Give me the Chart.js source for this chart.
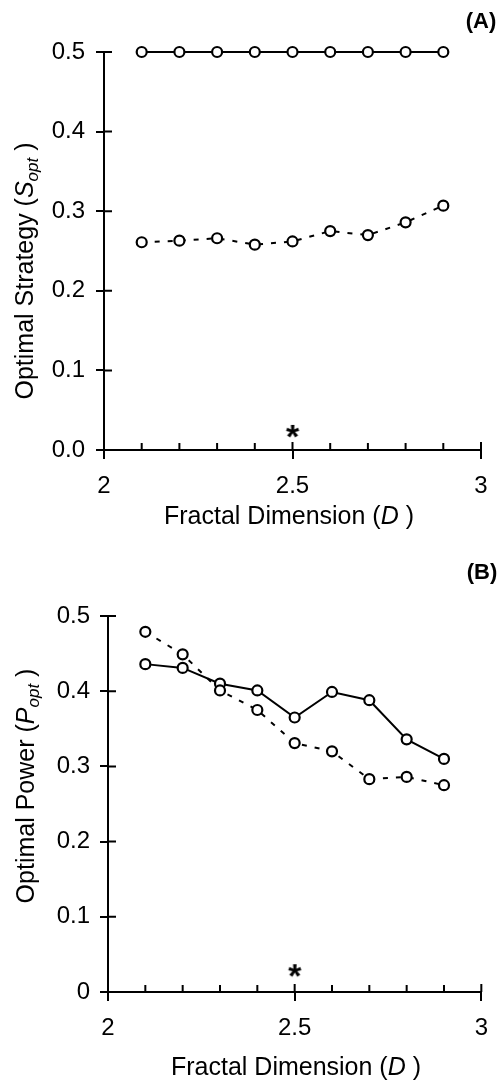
<!DOCTYPE html>
<html>
<head>
<meta charset="utf-8">
<script src="https://cdn.jsdelivr.net/npm/chart.js@4"></script>
<style>
  body { margin: 0; background: #fff; }
  #wrap { position: relative; width: 501px; height: 1080px; }
  canvas { position: absolute; left: 0; }
</style>
</head>
<body>
<div id="wrap">
  <canvas id="chart-a" width="501" height="540" style="top:0"></canvas>
  <canvas id="chart-b" width="501" height="540" style="top:540px"></canvas>
</div>
<script>
const dimValues      = [2.1, 2.2, 2.3, 2.4, 2.5, 2.6, 2.7, 2.8, 2.9];
const strategySolid  = [0.5, 0.5, 0.5, 0.5, 0.5, 0.5, 0.5, 0.5, 0.5];
const strategyDashed = [0.261, 0.263, 0.266, 0.258, 0.262, 0.275, 0.270, 0.286, 0.307];
const powerSolid     = [0.436, 0.431, 0.410, 0.401, 0.365, 0.399, 0.388, 0.336, 0.310];
const powerDashed    = [0.479, 0.449, 0.401, 0.375, 0.331, 0.320, 0.283, 0.286, 0.275];
const starX          = [2.5];
const starStrategy   = [0.024];
const starPower      = [0.029];
const xTickValues    = [2, 2.5, 3];
const xTickLabels    = ['2', '2.5', '3'];
const minorTicks     = [2.1, 2.2, 2.3, 2.4, 2.5, 2.6, 2.7, 2.8, 2.9];

const FONT = '"Liberation Sans", Arial, sans-serif';

function asteriskImage() {
  const c = document.createElement('canvas');
  c.width = 26; c.height = 26;
  const g = c.getContext('2d');
  g.font = 'bold 34px ' + FONT;
  g.textAlign = 'center';
  const m = g.measureText('*');
  g.fillStyle = '#000';
  g.fillText('*', 13, 13 + (m.actualBoundingBoxAscent - m.actualBoundingBoxDescent) / 2);
  return c;
}
const starImg = asteriskImage();

const pts = (xs, ys) => xs.map((x, i) => ({ x: x, y: ys[i] }));

function drawRuns(ctx, runs) {
  let total = 0;
  runs.forEach(r => { ctx.font = r.font; total += ctx.measureText(r.text).width; });
  let x = -total / 2;
  runs.forEach(r => {
    ctx.font = r.font;
    ctx.fillText(r.text, x, r.dy || 0);
    x += ctx.measureText(r.text).width;
  });
}

// axis titles, panel letter and the inward half of the tick marks
const decor = {
  id: 'decor',
  afterDraw(chart, args, o) {
    const ctx = chart.ctx;
    const xs = chart.scales.x, ys = chart.scales.y;
    const area = chart.chartArea;
    ctx.save();
    ctx.strokeStyle = '#000';
    ctx.lineWidth = 2;
    ctx.beginPath();
    minorTicks.forEach(v => {
      const px = xs.getPixelForValue(v);
      ctx.moveTo(px, area.bottom); ctx.lineTo(px, area.bottom - 7);
    });
    xTickValues.forEach(v => {
      const px = xs.getPixelForValue(v);
      ctx.moveTo(px, area.bottom); ctx.lineTo(px, area.bottom - 8);
    });
    ys.ticks.forEach(t => {
      const py = ys.getPixelForValue(t.value);
      ctx.moveTo(area.left, py); ctx.lineTo(area.left + 8, py);
    });
    ctx.stroke();

    ctx.fillStyle = '#000';
    ctx.textBaseline = 'alphabetic';
    ctx.textAlign = 'left';
    ctx.save();
    ctx.translate(o.yTitlePos[0], o.yTitlePos[1]);
    ctx.rotate(-Math.PI / 2);
    drawRuns(ctx, o.yTitle);
    ctx.restore();

    ctx.save();
    ctx.translate(o.xTitlePos[0], o.xTitlePos[1]);
    drawRuns(ctx, o.xTitle);
    ctx.restore();

    ctx.font = 'bold 22px ' + FONT;
    ctx.textAlign = 'center';
    ctx.textBaseline = 'middle';
    ctx.fillText(o.letter, o.letterPos[0], o.letterPos[1]);
    ctx.restore();
  }
};

function makePanel(id, cfg) {
  const solid = {
    data: pts(dimValues, cfg.solid),
    borderColor: '#000', borderWidth: 2,
    pointRadius: 5, pointBorderWidth: 2.2,
    pointBackgroundColor: '#fff', pointBorderColor: '#000',
    clip: false
  };
  const dashed = Object.assign({}, solid, { data: pts(dimValues, cfg.dashed), borderDash: [5, 8] });
  const star = {
    data: pts(starX, cfg.star),
    showLine: false, pointStyle: starImg, pointRadius: 8, clip: false
  };
  return new Chart(document.getElementById(id), {
    type: 'line',
    data: { datasets: [dashed, solid, star] },
    options: {
      responsive: false,
      animation: false,
      events: [],
      layout: { padding: cfg.padding },
      plugins: {
        legend: { display: false },
        tooltip: { enabled: false },
        decor: cfg.decor
      },
      scales: {
        x: {
          type: 'linear', min: 2, max: 3,
          afterFit: s => { s.height = 60; },
          afterBuildTicks: s => { s.ticks = xTickValues.map(v => ({ value: v })); },
          ticks: {
            autoSkip: false, maxRotation: 0, padding: cfg.xPad, color: '#000',
            font: { family: FONT, size: 24 },
            callback: v => xTickLabels[xTickValues.indexOf(v)]
          },
          grid: { drawOnChartArea: false, tickLength: 9, color: '#000', lineWidth: 2 },
          border: { color: '#000', width: 2 }
        },
        y: {
          min: 0, max: 0.5,
          afterFit: s => { s.width = cfg.yWidth; },
          ticks: {
            stepSize: 0.1, padding: cfg.yPad, color: '#000',
            font: { family: FONT, size: 24 },
            callback: cfg.yFormat
          },
          grid: { drawOnChartArea: false, tickLength: 8, color: '#000', lineWidth: 2 },
          border: { color: '#000', width: 2 }
        }
      }
    },
    plugins: [decor]
  });
}

const titleFont = '25px ' + FONT;
const italicFont = 'italic 25px ' + FONT;
const subFont = 'italic 17px ' + FONT;

makePanel('chart-a', {
  solid: strategySolid, dashed: strategyDashed, star: starStrategy,
  padding: { top: 52, right: 20, left: 0, bottom: 30 },
  yWidth: 104, yPad: 11, xPad: 13,
  yFormat: v => v.toFixed(1),
  decor: {
    letter: '(A)', letterPos: [481, 22],
    yTitlePos: [33, 271],
    yTitle: [
      { text: 'Optimal Strategy (', font: titleFont },
      { text: 'S', font: italicFont },
      { text: 'opt', font: subFont, dy: 5 },
      { text: ' )', font: titleFont }
    ],
    xTitlePos: [289, 524],
    xTitle: [
      { text: 'Fractal Dimension (', font: titleFont },
      { text: 'D', font: italicFont },
      { text: ' )', font: titleFont }
    ]
  }
});

makePanel('chart-b', {
  solid: powerSolid, dashed: powerDashed, star: starPower,
  padding: { top: 76, right: 16, left: 0, bottom: 28 },
  yWidth: 108, yPad: 10, xPad: 13,
  yFormat: v => v === 0 ? '0' : v.toFixed(1),
  decor: {
    letter: '(B)', letterPos: [482, 33],
    yTitlePos: [34, 246],
    yTitle: [
      { text: 'Optimal Power (', font: titleFont },
      { text: 'P', font: italicFont },
      { text: 'opt', font: subFont, dy: 5 },
      { text: ' )', font: titleFont }
    ],
    xTitlePos: [296, 535],
    xTitle: [
      { text: 'Fractal Dimension (', font: titleFont },
      { text: 'D', font: italicFont },
      { text: ' )', font: titleFont }
    ]
  }
});
</script>
</body>
</html>
